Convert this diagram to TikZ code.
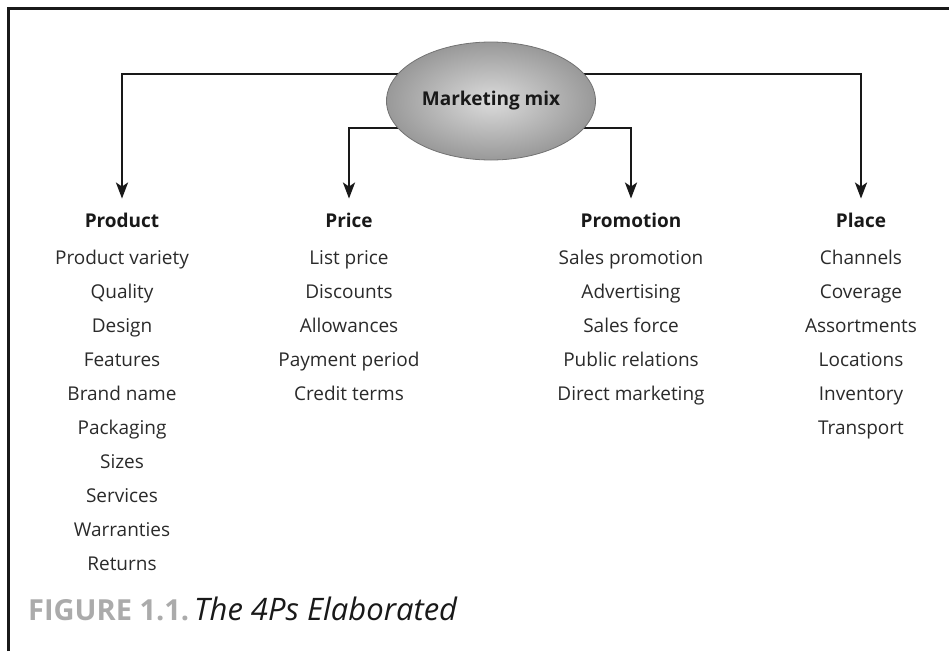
\documentclass[tikz,border=0pt]{standalone}
\usepackage{fontspec}
\setmainfont{Open Sans}
\usetikzlibrary{shapes.geometric,arrows.meta}
\pgfdeclarelayer{bg}
\pgfsetlayers{bg,main}
\definecolor{txt}{HTML}{2A2A2A}
\definecolor{capgray}{HTML}{ABABAB}
\tikzset{
  conn/.style={line width=2.6pt, draw=black!90, line join=miter,
    -{Stealth[length=16pt,width=12pt,inset=4pt]}},
  head/.style={anchor=base, inner sep=0pt, outer sep=14pt, font=\fontsize{19}{22}\selectfont\bfseries, text=black!90},
  item/.style={anchor=base, inner sep=0pt, font=\fontsize{19}{22}\selectfont, text=txt},
  mix/.style={ellipse, minimum width=209pt, minimum height=118pt, inner sep=0pt,
    draw=black!55, line width=0.8pt, inner color=black!14, outer color=black!40,
    font=\fontsize{19}{22}\selectfont\bfseries, text=black!90},
  frame/.style={line width=3pt, draw=black!90, line join=miter},
}
\begin{document}
\begin{tikzpicture}[x=1pt,y=-1pt]
\useasboundingbox (0,0) rectangle (949,651);
\draw[frame] (8,651) -- (8,8.5) -- (949,8.5);

\node[mix] (mm) at (491,101) {Marketing mix};
\coordinate (topl) at (0,74);
\coordinate (innl) at (0,128);

% headers
\node[head] (prod) at (122,227) {Product};
\node[head] (price) at (349,227) {Price};
\node[head] (promo) at (631,227) {Promotion};
\node[head] (place) at (861,227) {Place};

% items
\foreach \t [count=\i from 0] in {Product variety,Quality,Design,Features,Brand name,Packaging,Sizes,Services,Warranties,Returns}
  \node[item] (prod\i) at (122,264+34*\i) {\t};
\foreach \t [count=\i from 0] in {List price,Discounts,Allowances,Payment period,Credit terms}
  \node[item] (price\i) at (349,264+34*\i) {\t};
\foreach \t [count=\i from 0] in {Sales promotion,Advertising,Sales force,Public relations,Direct marketing}
  \node[item] (promo\i) at (631,264+34*\i) {\t};
\foreach \t [count=\i from 0] in {Channels,Coverage,Assortments,Locations,Inventory,Transport}
  \node[item] (place\i) at (861,264+34*\i) {\t};

\begin{pgfonlayer}{bg}
\draw[conn] (mm.center |- topl) -- (prod.north |- topl) -- (prod.north);
\draw[conn] (mm.center |- topl) -- (place.north |- topl) -- (place.north);
\draw[conn] (mm.center |- innl) -- (price.north |- innl) -- (price.north);
\draw[conn] (mm.center |- innl) -- (promo.north |- innl) -- (promo.north);
\end{pgfonlayer}

% caption
\node[anchor=base west, inner sep=0pt, text=capgray] (figlab) at (28,620)
  {\fontsize{29}{34}\selectfont\bfseries FIGURE 1.1.};
\node[anchor=base west, inner sep=0pt, text=black!90] (figcap) at (194,620)
  {\fontsize{31}{35}\selectfont\itshape The 4Ps Elaborated};
\end{tikzpicture}
\end{document}
